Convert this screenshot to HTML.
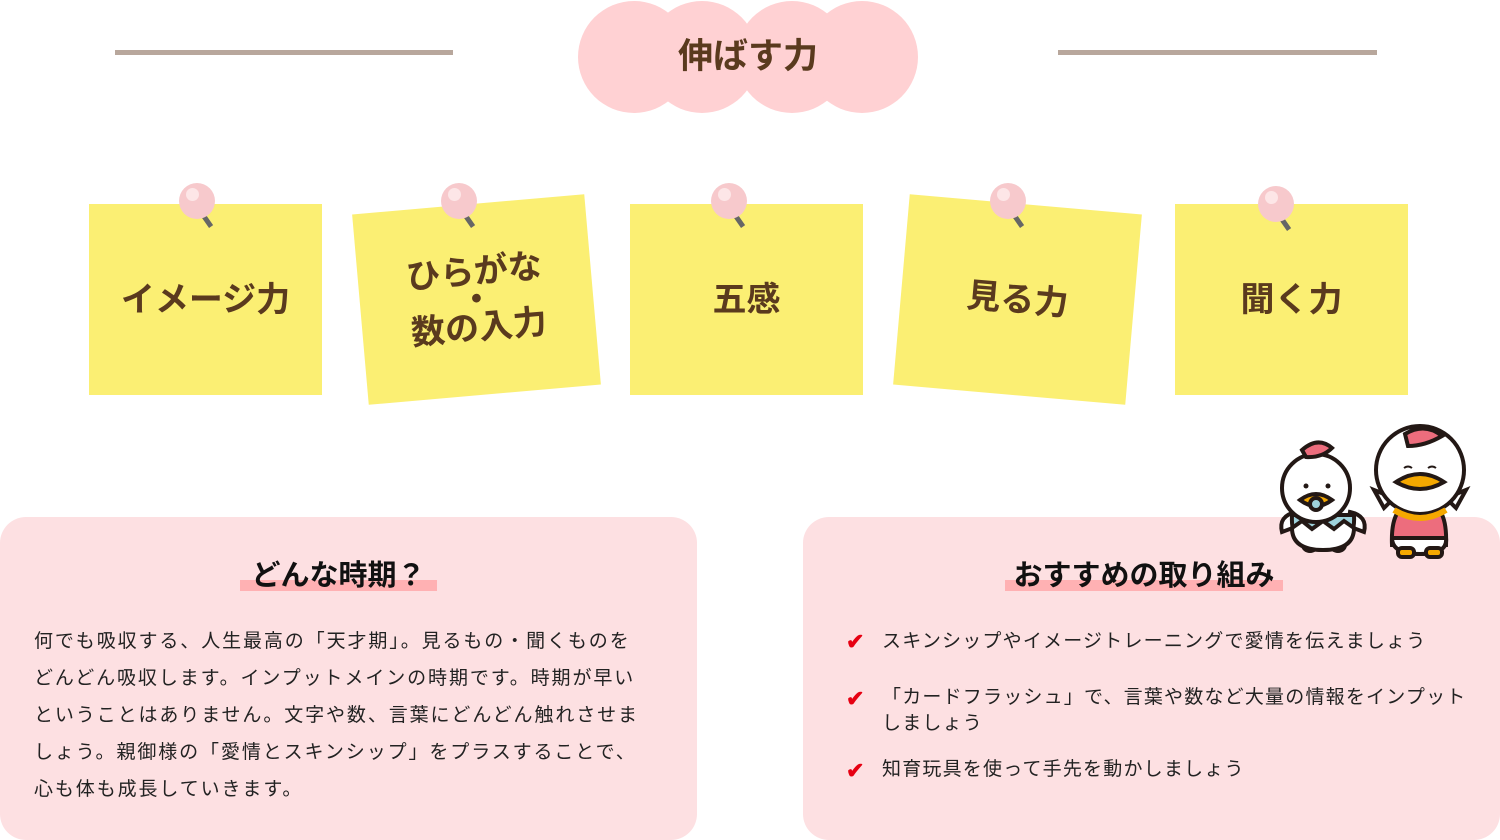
<!DOCTYPE html>
<html><head><meta charset="utf-8"><style>
body{margin:0;width:1500px;height:840px;position:relative;background:#fff;font-family:"Liberation Sans","Noto Sans CJK JP",sans-serif;overflow:hidden}
.a{position:absolute}
.c{position:absolute;border-radius:50%;background:#ffd1d3;width:112px;height:112px;top:1px}
.line{position:absolute;height:5px;background:#b8a79c;top:50px}
.note{position:absolute;width:233px;height:191px;background:#fbef73;display:flex;align-items:center;justify-content:center;text-align:center;font-weight:bold;color:#5a3a1e;font-size:34px;line-height:56px}
.pin{position:absolute;width:36px;height:36px;border-radius:50%;background:#f7c9cc}
.pin:after{content:"";position:absolute;left:7px;top:5px;width:13px;height:13px;border-radius:50%;background:#fde6e7}
.ndl{position:absolute;width:5px;height:16px;background:#666;transform:rotate(-35deg)}
.panel{position:absolute;top:517px;width:697px;height:323px;background:#fde0e2;border-radius:26px}
h2{position:absolute;margin:0;font-size:29px;font-weight:bold;color:#111;top:552px;white-space:nowrap}
.ul{position:absolute;height:11px;background:#ffb1b3;top:580px}
.body{position:absolute;left:34px;top:623px;font-size:19px;line-height:37px;color:#222;letter-spacing:1.9px;white-space:nowrap}
.li{position:absolute;left:882px;font-size:19px;line-height:26px;color:#222;letter-spacing:1.2px;white-space:nowrap}
.chk{position:absolute;left:846px;color:#e60012;font-size:22px;font-weight:bold}
</style></head><body>
<div class="line" style="left:115px;width:338px"></div>
<div class="line" style="left:1058px;width:319px"></div>
<div class="c" style="left:578px"></div><div class="c" style="left:646px"></div><div class="c" style="left:736px"></div><div class="c" style="left:806px"></div>
<div class="a" style="left:578px;top:20px;width:340px;text-align:center;font-size:35px;font-weight:bold;color:#5a3a1e;line-height:74px">伸ばす力</div>

<div class="note" style="left:89px;top:204px">イメージ力</div>
<div class="note" style="left:360px;top:204px;transform:rotate(-5deg);line-height:28px">ひらがな<br>・<br>数の入力</div>
<div class="note" style="left:630px;top:204px">五感</div>
<div class="note" style="left:901px;top:204px;transform:rotate(5deg)">見る力</div>
<div class="note" style="left:1175px;top:204px">聞く力</div>

<div class="ndl" style="left:204px;top:212px"></div><div class="pin" style="left:179px;top:183px"></div>
<div class="ndl" style="left:466px;top:212px"></div><div class="pin" style="left:441px;top:183px"></div>
<div class="ndl" style="left:736px;top:212px"></div><div class="pin" style="left:711px;top:183px"></div>
<div class="ndl" style="left:1015px;top:212px"></div><div class="pin" style="left:990px;top:183px"></div>
<div class="ndl" style="left:1282px;top:215px"></div><div class="pin" style="left:1258px;top:186px"></div>

<div class="panel" style="left:0"></div>
<div class="panel" style="left:803px"></div>
<div class="ul" style="left:240px;width:197px"></div>
<h2 style="left:200px;width:277px;text-align:center">どんな時期？</h2>
<div class="ul" style="left:1005px;width:278px"></div>
<h2 style="left:985px;width:318px;text-align:center">おすすめの取り組み</h2>
<div class="body">何でも吸収する、人生最高の「天才期」。見るもの・聞くものを<br>どんどん吸収します。インプットメインの時期です。時期が早い<br>ということはありません。文字や数、言葉にどんどん触れさせま<br>しょう。親御様の「愛情とスキンシップ」をプラスすることで、<br>心も体も成長していきます。</div>
<div class="chk" style="top:629px">✔</div><div class="li" style="top:629px">スキンシップやイメージトレーニングで愛情を伝えましょう</div>
<div class="chk" style="top:686px">✔</div><div class="li" style="top:685px">「カードフラッシュ」で、言葉や数など大量の情報をインプット<br>しましょう</div>
<div class="chk" style="top:758px">✔</div><div class="li" style="top:757px">知育玩具を使って手先を動かしましょう</div>

<svg class="a" style="left:1270px;top:420px" width="210" height="145" viewBox="0 0 210 145">
<g stroke="#231815" stroke-width="4">
<path d="M26 92 Q8 96 12 112 L28 106 Z" fill="#fff"/><path d="M80 92 Q98 96 94 112 L78 106 Z" fill="#fff"/>
<ellipse cx="40" cy="125" rx="7" ry="6" fill="#f5a800"/><ellipse cx="68" cy="125" rx="7" ry="6" fill="#f5a800"/>
<path d="M22 95 Q20 130 53 130 Q86 130 84 95 Z" fill="#9fd3dc"/>
<path d="M22 108 L32 101 L42 109 L53 101 L64 109 L74 101 L84 108 Q84 130 53 130 Q22 130 22 108Z" fill="#fff"/>
<circle cx="46" cy="68" r="34" fill="#fff"/>
<path d="M32 30 Q48 16 62 28 Q52 38 36 37 Z" fill="#ed6d7d"/>
<path d="M30 80 Q46 68 62 80 Q46 92 30 80Z" fill="#f5a800"/>
<circle cx="46" cy="84" r="6" fill="#9fd3dc"/>
<path d="M114 88 L104 70 L124 78Z M186 88 L196 70 L176 78Z" fill="#fff"/>
<path d="M150 82 Q120 80 122 125 L176 125 Q178 80 150 82Z" fill="#ed6d7d"/>
<path d="M122 118 Q122 134 150 134 Q178 134 176 118Z" fill="#fff"/>
<rect x="128" y="128" width="16" height="9" rx="4" fill="#f5a800"/><rect x="156" y="128" width="16" height="9" rx="4" fill="#f5a800"/>
<circle cx="150" cy="50" r="44" fill="#fff"/>
<path d="M135 14 Q155 2 172 16 Q155 26 138 26 Z" fill="#ed6d7d"/>
<path d="M126 62 Q150 46 174 62 Q150 76 126 62Z" fill="#f5a800"/>
</g>
<path d="M124 90 Q150 106 176 90" stroke="#f5a800" stroke-width="6" fill="none"/>
<path d="M134 48 q4 -3 8 0 M158 48 q4 -3 8 0" stroke="#231815" stroke-width="2" fill="none"/>
<circle cx="36" cy="66" r="2.5" fill="#231815"/><circle cx="58" cy="66" r="2.5" fill="#231815"/>
</svg>
</body></html>
